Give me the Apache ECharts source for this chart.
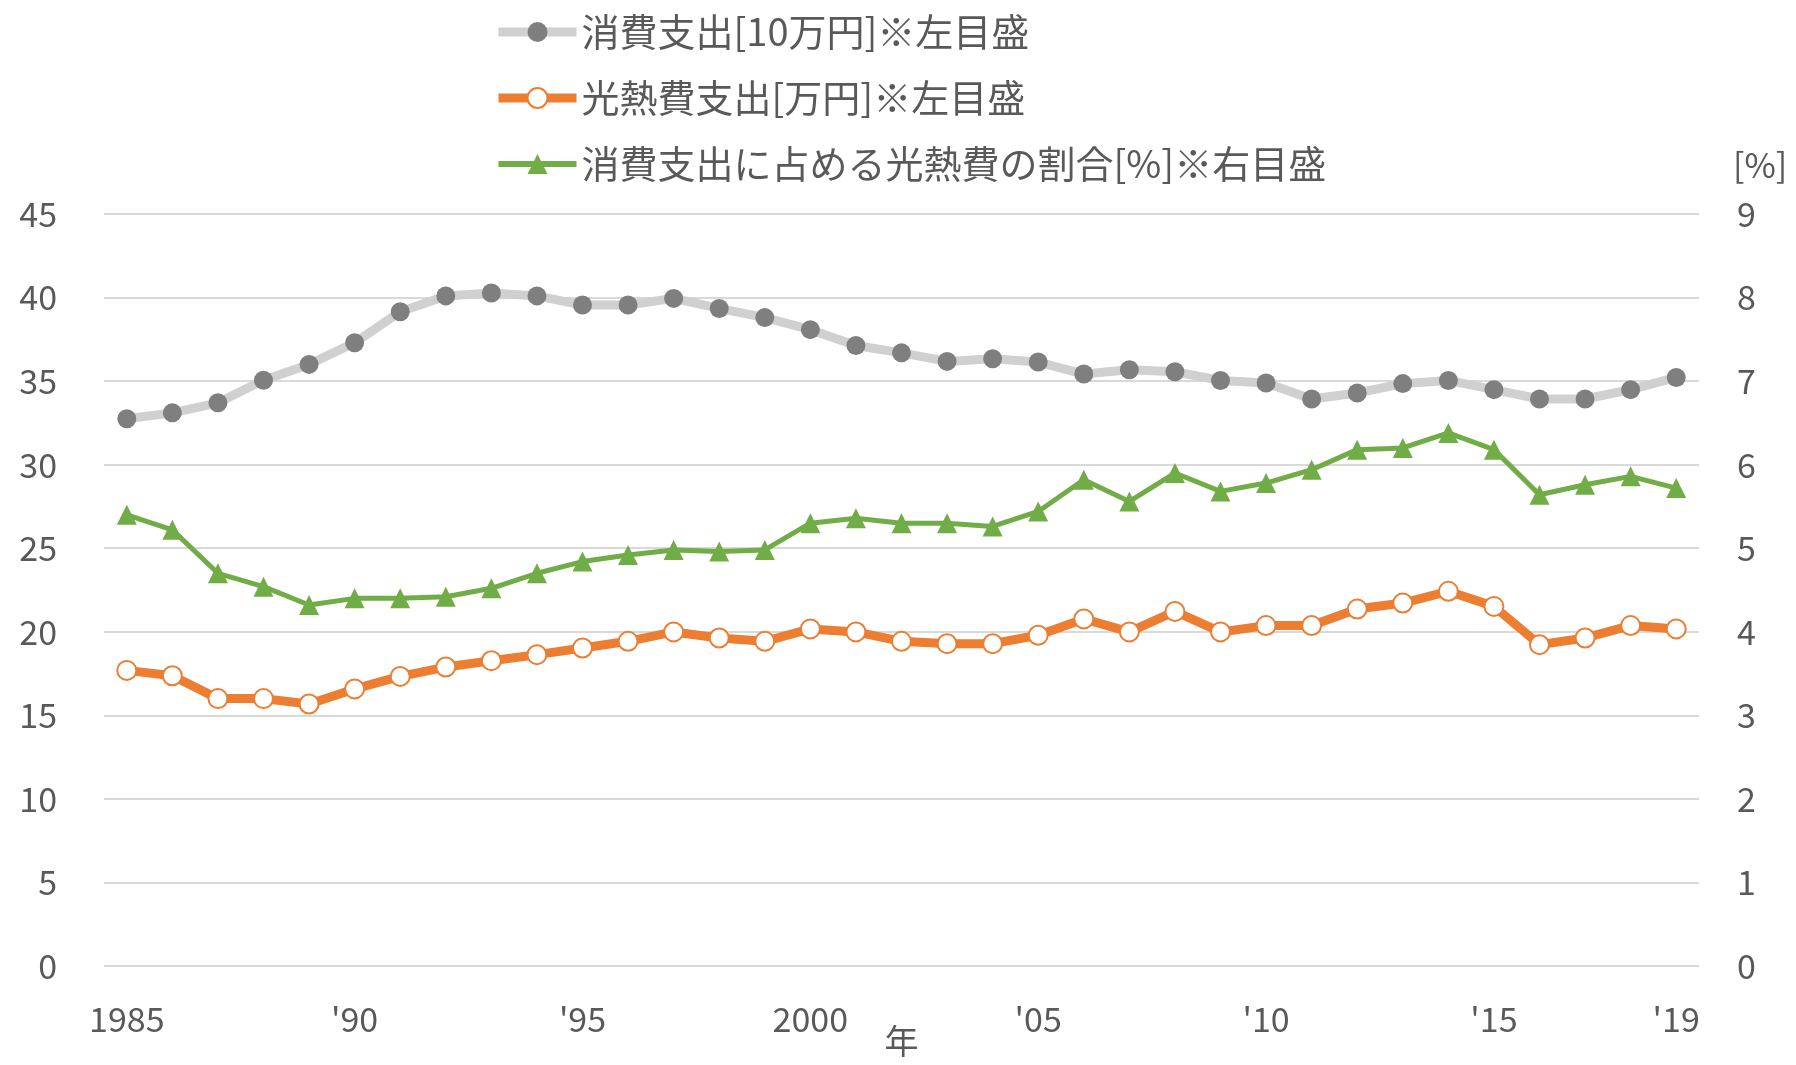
<!DOCTYPE html>
<html>
<head>
<meta charset="utf-8">
<script src="https://cdn.jsdelivr.net/npm/echarts@6/dist/echarts.min.js"></script>
<style>
  html, body { margin: 0; padding: 0; background: #fff; }
  #chart { width: 1796px; height: 1065px; }
</style>
</head>
<body>
<div id="chart"></div>
<script>
// 年
const years = [
  "1985", "1986", "1987", "1988", "1989", "1990", "1991", "1992", "1993", "1994",
  "1995", "1996", "1997", "1998", "1999", "2000", "2001", "2002", "2003", "2004",
  "2005", "2006", "2007", "2008", "2009", "2010", "2011", "2012", "2013", "2014",
  "2015", "2016", "2017", "2018", "2019"
];
// 表示する目盛ラベル
const yearTicks = {
  "1985": "1985", "1990": "'90", "1995": "'95", "2000": "2000",
  "2005": "'05", "2010": "'10", "2015": "'15", "2019": "'19"
};

// 消費支出[10万円]
const consumption = [
  32.75, 33.1, 33.7, 35.05, 36.0, 37.3, 39.15, 40.1, 40.27, 40.1,
  39.55, 39.55, 39.95, 39.35, 38.8, 38.08, 37.13, 36.69, 36.18, 36.34,
  36.14, 35.42, 35.68, 35.56, 35.04, 34.89, 33.93, 34.29, 34.85, 35.04,
  34.49, 33.93, 33.93, 34.49, 35.22
];
// 光熱費支出[万円]
const utility = [
  17.69, 17.37, 16.0, 16.0, 15.68, 16.58, 17.33, 17.89, 18.27, 18.63,
  19.03, 19.43, 19.99, 19.63, 19.43, 20.17, 19.99, 19.43, 19.29, 19.29,
  19.79, 20.77, 19.99, 21.22, 19.99, 20.37, 20.37, 21.36, 21.72, 22.42,
  21.52, 19.23, 19.63, 20.37, 20.17
];
// 消費支出に占める光熱費の割合[%]
const ratio = [
  5.40, 5.22, 4.70, 4.54, 4.32, 4.40, 4.40, 4.42, 4.52, 4.70,
  4.84, 4.92, 4.98, 4.96, 4.98, 5.30, 5.36, 5.30, 5.30, 5.26,
  5.44, 5.82, 5.56, 5.90, 5.68, 5.78, 5.94, 6.18, 6.20, 6.38,
  6.18, 5.64, 5.76, 5.86, 5.72
];

const leftTicks = [0, 45, 5];
const rightTicks = [0, 9, 1];

const font = "'Noto Sans CJK JP', 'Noto Sans', sans-serif";
const textColor = "#595959";

const chart = echarts.init(document.getElementById("chart"), null, { renderer: "canvas" });

chart.setOption({
  animation: false,
  backgroundColor: "#fff",
  textStyle: { fontFamily: font, color: textColor },
  legend: {
    orient: "vertical",
    left: 489,
    top: 8,
    itemWidth: 78,
    itemHeight: 25,
    itemGap: 28,
    textStyle: { fontSize: 38, lineHeight: 38, color: textColor, fontFamily: font },
    data: [
      { name: "消費支出[10万円]※左目盛", lineStyle: { width: 9 } },
      { name: "光熱費支出[万円]※左目盛", lineStyle: { width: 9 } },
      { name: "消費支出に占める光熱費の割合[%]※右目盛", lineStyle: { width: 6 } }
    ]
  },
  grid: { left: 104, right: 97, top: 214, bottom: 99, outerBoundsMode: "none" },
  xAxis: {
    type: "category",
    data: years,
    boundaryGap: true,
    name: "年",
    nameLocation: "middle",
    nameGap: 58,
    nameMoveOverlap: false,
    nameTextStyle: { fontSize: 34, color: textColor },
    axisLine: { show: false },
    axisTick: { show: false },
    axisLabel: {
      interval: (i, v) => yearTicks[v] !== undefined,
      formatter: v => yearTicks[v] || "",
      fontSize: 34,
      margin: 36,
      color: textColor
    }
  },
  yAxis: [
    {
      type: "value",
      min: leftTicks[0],
      max: leftTicks[1],
      interval: leftTicks[2],
      axisLine: { show: false },
      axisTick: { show: false },
      axisLabel: { fontSize: 34, margin: 47, color: textColor, padding: [0, 0, 8, 0] },
      splitLine: { lineStyle: { color: "#d9d9d9", width: 2 } }
    },
    {
      type: "value",
      position: "right",
      min: rightTicks[0],
      max: rightTicks[1],
      interval: rightTicks[2],
      name: "[%]",
      nameLocation: "end",
      nameGap: 32,
      nameTextStyle: { fontSize: 34, color: textColor, align: "left", padding: [0, 0, 0, 34] },
      axisLine: { show: false },
      axisTick: { show: false },
      axisLabel: { fontSize: 34, margin: 38, color: textColor, align: "left", padding: [0, 0, 8, 0] },
      splitLine: { show: false }
    }
  ],
  series: [
    {
      name: "消費支出[10万円]※左目盛",
      type: "line",
      yAxisIndex: 0,
      data: consumption,
      symbol: "circle",
      symbolSize: 19,
      lineStyle: { color: "#d0d0d0", width: 9 },
      itemStyle: { color: "#7f7f7f" }
    },
    {
      name: "光熱費支出[万円]※左目盛",
      type: "line",
      yAxisIndex: 0,
      data: utility,
      symbol: "circle",
      symbolSize: 19,
      lineStyle: { color: "#ed7d31", width: 9 },
      itemStyle: { color: "#fff", borderColor: "#ed7d31", borderWidth: 2 }
    },
    {
      name: "消費支出に占める光熱費の割合[%]※右目盛",
      type: "line",
      yAxisIndex: 1,
      data: ratio,
      symbol: "triangle",
      symbolSize: 20,
      lineStyle: { color: "#70ad47", width: 5 },
      itemStyle: { color: "#70ad47" }
    }
  ]
});
</script>
</body>
</html>
